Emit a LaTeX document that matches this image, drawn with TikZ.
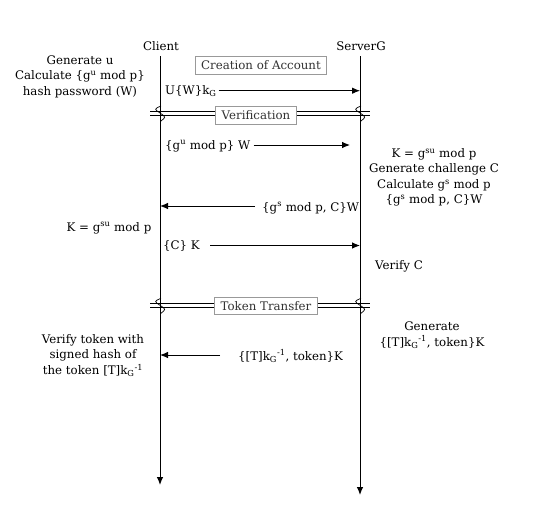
\documentclass[tikz,border=0pt]{standalone}
\usepackage{fontspec}
\setmainfont{DejaVu Serif}
\usetikzlibrary{arrows.meta}
\newcommand{\kG}{k\textsubscript{G}}
\newcommand{\sps}[1]{\textsuperscript{#1}}
\tikzset{
  lifeline/.style={line width=1pt, -{Latex[length=8pt,width=6.5pt]}},
  msg/.style={line width=0.9pt, -{Latex[length=8pt,width=6.5pt]}},
  txt/.style={inner sep=0pt, font=\fontsize{11.8}{15.5}\selectfont},
  note/.style={txt, align=center},
  phase/.style={txt, draw=gray!80, fill=white, line width=0.9pt, inner xsep=6pt, inner ysep=4pt, text=black!80},
  sepline/.style={line width=1pt},
  brk/.pic={\draw[line width=0.7pt] (1,-7) .. controls (-6,-4) .. (0,0) .. controls (6,4) .. (1,8);}
}
\begin{document}
\begin{tikzpicture}[x=1pt, y=-1pt]
  \useasboundingbox (0,0) rectangle (534,527);

  % lifelines
  \node[txt] (client) at (161,46) {Client};
  \node[txt] (server) at (361,46) {ServerG};
  \coordinate (cTop) at (160,56);
  \coordinate (cEnd) at (160,485);
  \coordinate (sTop) at (360,56);
  \coordinate (sEnd) at (360,495);
  \draw[lifeline] (cTop) -- (cEnd);
  \draw[lifeline] (sTop) -- (sEnd);

  % creation of account
  \node[phase] (create) at (261,65.5) {Creation of Account};
  \node[note] (cNote1) at (80,76.5) {Generate u\\Calculate \{g\sps{u} mod p\}\\hash password (W)};
  \node[txt, anchor=west] (m1) at (165,91) {U\{W\}\kG};
  \coordinate (s1) at (360,90.7);
  \draw[msg] ([xshift=2pt]m1.east |- s1) -- (s1);

  % verification
  \node[phase] (verif) at (256,115.5) {Verification};
  \foreach \y in {111,115} {
    \draw[sepline] (150,\y) -- (verif.west |- 0,\y);
    \draw[sepline] (verif.east |- 0,\y) -- (370,\y);
  }
  \pic at (160,113) {brk};
  \pic at (360,113) {brk};

  \node[txt, anchor=west] (m2) at (165,146) {\{g\sps{u} mod p\} W};
  \coordinate (s2) at (350,145);
  \draw[msg] ([xshift=3pt]m2.east |- s2) -- (s2);

  \node[note] (sNote1) at (434,177.5) {K = g\sps{su} mod p\\Generate challenge C\\Calculate g\sps{s} mod p\\\{g\sps{s} mod p, C\}W};
  \node[txt, anchor=west] (m3) at (262,208) {\{g\sps{s} mod p, C\}W};
  \coordinate (c3) at (160,206);
  \draw[msg] ([xshift=-7pt]m3.west |- c3) -- (c3);

  \node[note] (cNote2) at (109,228) {K = g\sps{su} mod p};
  \node[txt, anchor=west] (m4) at (163,246) {\{C\} K};
  \coordinate (s4) at (360,245.5);
  \draw[msg] ([xshift=10pt]m4.east |- s4) -- (s4);
  \node[note] (sNote2) at (399,266.5) {Verify C};

  % token transfer
  \node[phase] (token) at (266,306) {Token Transfer};
  \foreach \y in {303.3,307.3} {
    \draw[sepline] (150,\y) -- (token.west |- 0,\y);
    \draw[sepline] (token.east |- 0,\y) -- (370,\y);
  }
  \pic at (160,305.3) {brk};
  \pic at (360,305.3) {brk};

  \node[note] (sNote3) at (432,335) {Generate\\\{[T]\kG\sps{-1}, token\}K};
  \node[note] (cNote3) at (93,355.5) {Verify token with\\signed hash of\\the token [T]\kG\sps{-1}};
  \node[txt, anchor=west] (m5) at (238,356) {\{[T]\kG\sps{-1}, token\}K};
  \coordinate (c5) at (160,355);
  \draw[msg] ([xshift=-18pt]m5.west |- c5) -- (c5);
\end{tikzpicture}
\end{document}
